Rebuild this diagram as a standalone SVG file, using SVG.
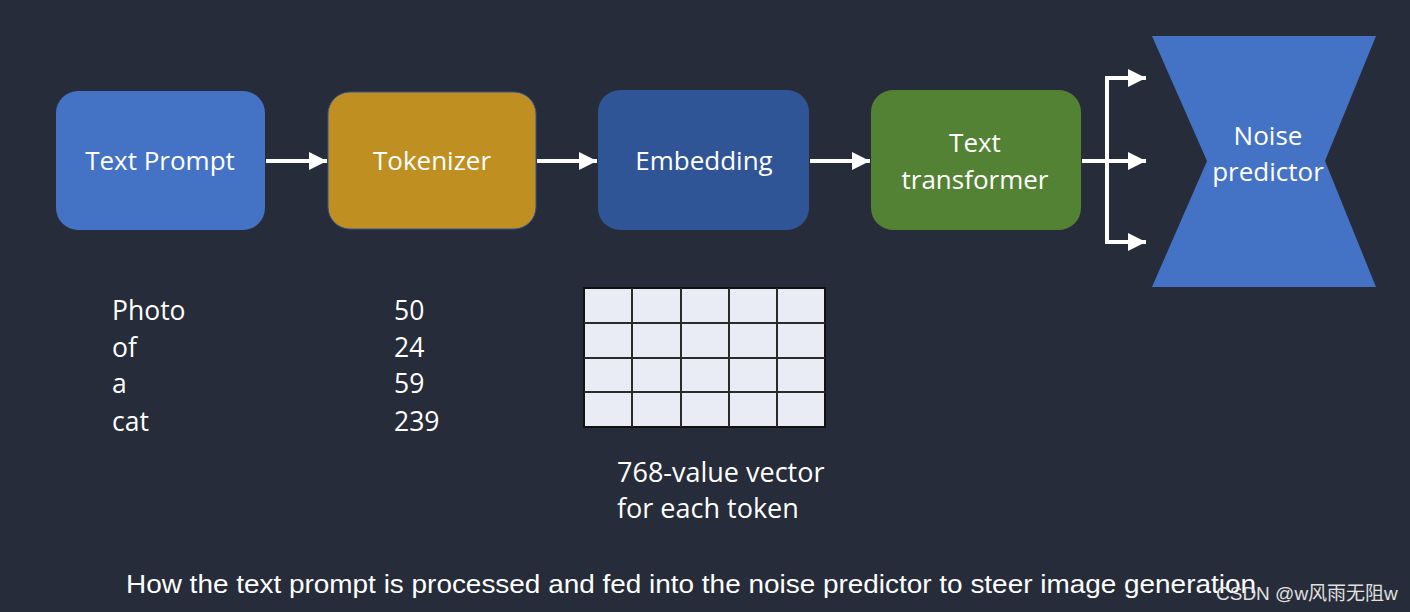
<svg xmlns="http://www.w3.org/2000/svg" width="1410" height="612" viewBox="0 0 1410 612">
<defs>
<style>
.lbl{font-family:"Open Sans","Liberation Sans",sans-serif;fill:#ffffff;font-size:26px;text-anchor:middle}
.txt{font-family:"Open Sans","Liberation Sans",sans-serif;fill:#ffffff;font-size:26.5px}
.conn{stroke:#ffffff;stroke-width:4;fill:none}
.grid{stroke:#2a2a2a;stroke-width:2}
</style>
<marker id="ah" viewBox="0 0 10 10" refX="10" refY="5" markerWidth="4.5" markerHeight="5.5" markerUnits="strokeWidth" orient="auto">
<path d="M0,0 L10,5 L0,10 Z" fill="#ffffff"/>
</marker>
</defs>
<rect x="0" y="0" width="1410" height="612" fill="#262c39"/>
<g id="text-prompt">
<rect x="56" y="91" width="209" height="139" rx="22" fill="#4472c4"/>
<text class="lbl" x="160" y="170">Text Prompt</text>
</g>
<g id="tokenizer">
<rect x="328" y="92" width="208" height="137" rx="22" fill="#bf8f22" stroke="#2f5597" stroke-width="1"/>
<text class="lbl" x="432" y="170">Tokenizer</text>
</g>
<g id="embedding">
<rect x="598" y="90" width="211" height="140" rx="22" fill="#2f5597"/>
<text class="lbl" x="704" y="170">Embedding</text>
</g>
<g id="text-transformer">
<rect x="871" y="90" width="210" height="140" rx="22" fill="#548235"/>
<text class="lbl" x="975" y="152">Text</text>
<text class="lbl" x="975" y="189">transformer</text>
</g>
<g id="noise-predictor">
<polygon points="1152,36 1376,36 1325,161 1376,287 1152,287 1207,161" fill="#4472c4"/>
<text class="lbl" x="1268" y="145">Noise</text>
<text class="lbl" x="1268" y="181">predictor</text>
</g>
<g id="connectors">
<line class="conn" x1="266" y1="161" x2="327" y2="161" marker-end="url(#ah)"/>
<line class="conn" x1="537" y1="161" x2="597" y2="161" marker-end="url(#ah)"/>
<line class="conn" x1="810" y1="161" x2="870" y2="161" marker-end="url(#ah)"/>
<line class="conn" x1="1082" y1="161" x2="1146" y2="161" marker-end="url(#ah)"/>
<polyline class="conn" points="1107,161 1107,78 1146,78" marker-end="url(#ah)"/>
<polyline class="conn" points="1107,161 1107,242 1146,242" marker-end="url(#ah)"/>
</g>
<g id="tokens">
<text class="txt" x="112" y="320">Photo</text>
<text class="txt" x="112" y="357">of</text>
<text class="txt" x="112" y="393">a</text>
<text class="txt" x="112" y="431">cat</text>
<text class="txt" x="394" y="320">50</text>
<text class="txt" x="394" y="357">24</text>
<text class="txt" x="394" y="393">59</text>
<text class="txt" x="394" y="431">239</text>
</g>
<g id="embedding-grid">
<rect x="584" y="288" width="241" height="139" fill="#e9ebf5" stroke="#111111" stroke-width="2"/>
<line class="grid" x1="632" y1="288" x2="632" y2="427"/>
<line class="grid" x1="681" y1="288" x2="681" y2="427"/>
<line class="grid" x1="729" y1="288" x2="729" y2="427"/>
<line class="grid" x1="777" y1="288" x2="777" y2="427"/>
<line class="grid" x1="584" y1="323" x2="825" y2="323"/>
<line class="grid" x1="584" y1="358" x2="825" y2="358"/>
<line class="grid" x1="584" y1="392" x2="825" y2="392"/>
<text class="txt" x="617" y="482" style="font-size:27px">768-value vector</text>
<text class="txt" x="617" y="518" style="font-size:27px">for each token</text>
</g>
<text x="126" y="593" font-family="Liberation Sans, Arial, sans-serif" font-size="26" fill="#ffffff" textLength="1130" lengthAdjust="spacingAndGlyphs">How the text prompt is processed and fed into the noise predictor to steer image generation</text>
<text x="1216" y="600" font-family="Liberation Sans, 'Noto Sans CJK SC', sans-serif" font-size="19" fill="#e0e0e0">CSDN @w风雨无阻w</text>
</svg>
